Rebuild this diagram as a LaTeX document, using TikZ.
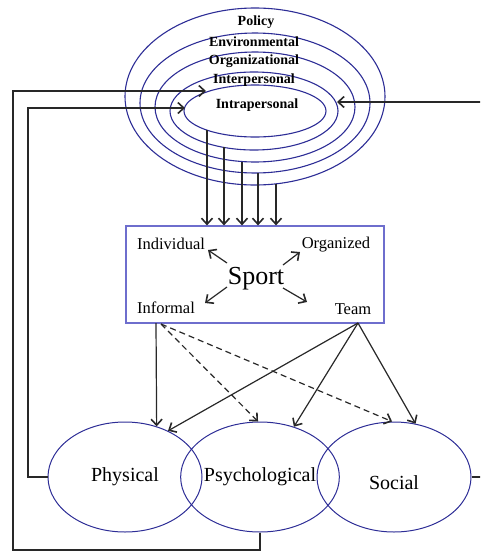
\documentclass[tikz,border=0pt]{standalone}
\usepackage{fontspec}
\setmainfont{Liberation Serif}
\usetikzlibrary{arrows.meta,shapes.geometric}
\definecolor{ringblue}{RGB}{45,45,150}
\definecolor{boxblue}{RGB}{110,110,205}
\definecolor{linegray}{RGB}{40,40,40}
\begin{document}
\begin{tikzpicture}[x=1pt,y=-1pt,
  ring/.style={ellipse,draw=ringblue,line width=1.1pt,inner sep=0pt},
  ringlabel/.style={font=\fontsize{14}{14}\selectfont\bfseries,inner sep=0pt},
  sportbox/.style={draw=boxblue,line width=1.2pt,fill=white,inner sep=0pt,
                   minimum width=258pt,minimum height=97pt},
  kind/.style={font=\fontsize{16.5}{16.5}\selectfont,inner sep=0pt},
  outcome/.style={ellipse,draw=ringblue,line width=1pt,inner sep=0pt,
                  minimum width=154pt,minimum height=110pt,
                  font=\fontsize{20}{20}\selectfont},
  conn/.style={draw=linegray,line width=1.2pt,
               -{Straight Barb[length=6pt,width=11pt,line width=1.6pt]}},
  dconn/.style={conn,dash pattern=on 6pt off 4pt},
]
\useasboundingbox (0,0) rectangle (480,552);
\clip (0,0) rectangle (480,552);

% nested levels of influence
\node[ring,minimum width=260pt,minimum height=177pt] (e1) at (255,96.5) {};
\node[ring,minimum width=230pt,minimum height=140pt] (e2) at (255,103) {};
\node[ring,minimum width=200pt,minimum height=110pt] (e3) at (255,107) {};
\node[ring,minimum width=168pt,minimum height=78pt]  (e4) at (254,111) {};
\node[ring,minimum width=142pt,minimum height=52pt]  (e5) at (255,111) {};

\node[ringlabel] (lpol) at (256,22)  {Policy};
\node[ringlabel] (lenv) at (254,42)  {Environmental};
\node[ringlabel] (lorg) at (254,61)  {Organizational};
\node[ringlabel] (lint) at (254,80)  {Interpersonal};
\node[ringlabel] (lintra) at (257,105) {Intrapersonal};

% sport box
\node[sportbox] (box) at (255,274.5) {};
\node[kind] (indiv)  at (171,244) {Individual};
\node[kind] (organ)  at (336,245) {Organized};
\node[kind] (inform) at (166,308) {Informal};
\node[kind] (team)   at (353,309) {Team};
\node[font=\fontsize{26}{26}\selectfont,inner sep=0pt] (sport) at (256,279) {Sport};

\draw[conn] ([shift={(-29,-16)}]sport.center) -- ([shift={(37,6)}]indiv.center);
\draw[conn] ([shift={(27,-14)}]sport.center)  -- ([shift={(-36,7)}]organ.center);
\draw[conn] ([shift={(-29,8)}]sport.center)   -- ([shift={(39,-5)}]inform.center);
\draw[conn] ([shift={(27,9)}]sport.center)    -- ([shift={(-46,-7)}]team.center);

% each level feeds into sport
\coordinate (r5) at (207,130.2);
\coordinate (r4) at (224,147);
\coordinate (r3) at (242,161.5);
\coordinate (r2) at (258,173);
\coordinate (r1) at (276,183.5);
\foreach \r in {r1,r2,r3,r4,r5}
  \draw[conn] (\r) -- (\r |- box.north);

% outcomes
\node[outcome] (phys)  at (125,477) {Physical};
\node[outcome] (psych) at (260,477) {Psychological};
\node[outcome] (soc)   at (394,477) {};
\node[font=\fontsize{20}{20}\selectfont,inner sep=0pt] (soct) at (394,483) {Social};

% sport to outcomes
\coordinate (infout)  at (156,323);
\coordinate (infdash) at (161,324);
\coordinate (teamout) at (358,323);
\draw[conn]  (infout)  -- (phys.58);
\draw[dconn] (infdash) -- (psych.92);
\draw[dconn] (infdash) -- (soc.92);
\draw[conn]  (teamout) -- (phys.47);
\draw[conn]  (teamout) -- (psych.56.6);
\draw[conn]  (teamout) -- (soc.68);

% feedback loops to the inner levels
\coordinate (tipA) at (206,91);
\coordinate (tipB) at (185,108);
\coordinate (tipC) at (337,102);
\draw[conn] (psych.south) |- (13,550) |- (tipA);
\draw[conn] (phys.west) -| (28,108) -- (tipB);
\draw[conn] (soc.east) -| (484,102) -- (tipC);
\end{tikzpicture}
\end{document}
